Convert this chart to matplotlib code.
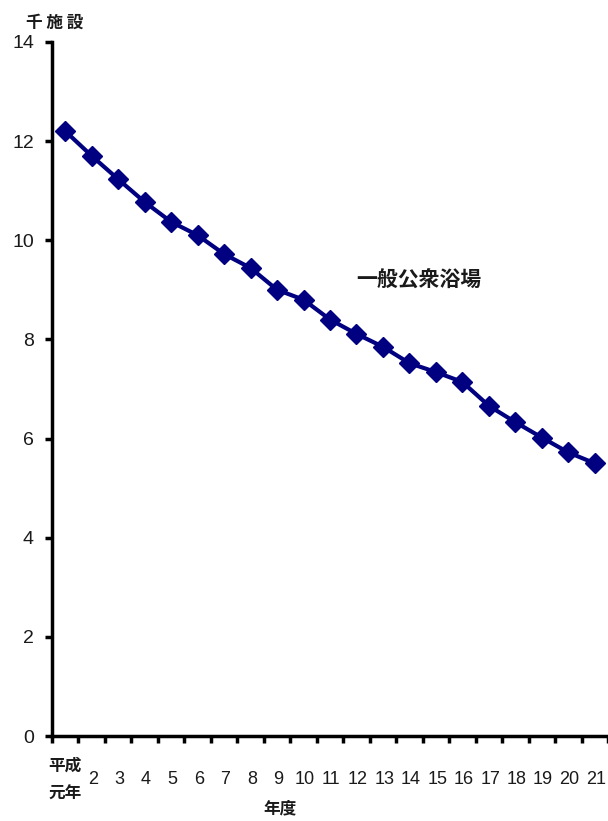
import matplotlib.pyplot as plt
from matplotlib import font_manager
from matplotlib.transforms import blended_transform_factory

# 一般公衆浴場の施設数（千施設）
years = ['平成\n元年', '2', '3', '4', '5', '6', '7', '8', '9', '10', '11',
         '12', '13', '14', '15', '16', '17', '18', '19', '20', '21']
facilities = [12.2, 11.7, 11.23, 10.77, 10.37, 10.1, 9.72, 9.44, 9.0, 8.8,
              8.4, 8.11, 7.85, 7.52, 7.34, 7.14, 6.66, 6.33, 6.02, 5.72, 5.5]
yticks = [0, 2, 4, 6, 8, 10, 12, 14]

names = {f.name for f in font_manager.fontManager.ttflist}
num_font = 'Liberation Sans Narrow' if 'Liberation Sans Narrow' in names else 'Liberation Sans'
jp = ['Noto Sans CJK JP', 'DejaVu Sans']
plt.rcParams['font.family'] = [num_font, 'Noto Sans CJK JP', 'DejaVu Sans']

fig = plt.figure(figsize=(6.08, 8.21), dpi=100)
ax = fig.add_axes([0.0855, 0.1035, 0.9145, 0.8455])

x = list(range(len(years)))
ax.plot(x, facilities, color='#000080', lw=3, marker='D', markersize=10,
        markeredgecolor='#000080', markerfacecolor='#000080', clip_on=False)

ax.set_xlim(-0.5, len(years) - 0.5)
ax.set_ylim(0, 14)

for s in ['top', 'right']:
    ax.spines[s].set_visible(False)
for s in ['left', 'bottom']:
    ax.spines[s].set_linewidth(2.5)
    ax.spines[s].set_color('black')

ax.set_yticks(yticks)
ax.set_yticklabels([str(v) for v in yticks], fontsize=14, color='#1a1a1a')
ax.tick_params(axis='y', direction='out', length=5, width=2.5, pad=8)

# category boundaries carry the tick marks, labels sit in between
ax.set_xticks([i - 0.5 for i in range(len(years) + 1)])
ax.set_xticklabels([])
ax.tick_params(axis='x', which='major', direction='out', length=5, width=2.5)

trans = blended_transform_factory(ax.transData, ax.transAxes)
for i, lab in enumerate(years):
    if '\n' in lab:
        ax.text(i, -0.063, lab, transform=trans, ha='center', va='center',
                fontsize=12, family=jp, weight='bold', linespacing=1.75,
                color='#1a1a1a')
    else:
        ax.text(i + 0.05, -0.063, lab, transform=trans, ha='center', va='center',
                fontsize=13, color='#1a1a1a')

ax.text(8.1, -0.104, '年度', transform=trans, ha='center', va='center',
        fontsize=12, family=jp, weight='bold', color='#1a1a1a')

ax.text(-0.4, 1.028, '千 施 設', transform=trans, ha='center', va='center',
        fontsize=12, family=jp, weight='bold', color='#1a1a1a')

ax.text(13.35, 9.2, '一般公衆浴場', ha='center', va='center',
        fontsize=15, family=jp, weight='bold', color='#1a1a1a')

fig.savefig('out.png', dpi=100)
